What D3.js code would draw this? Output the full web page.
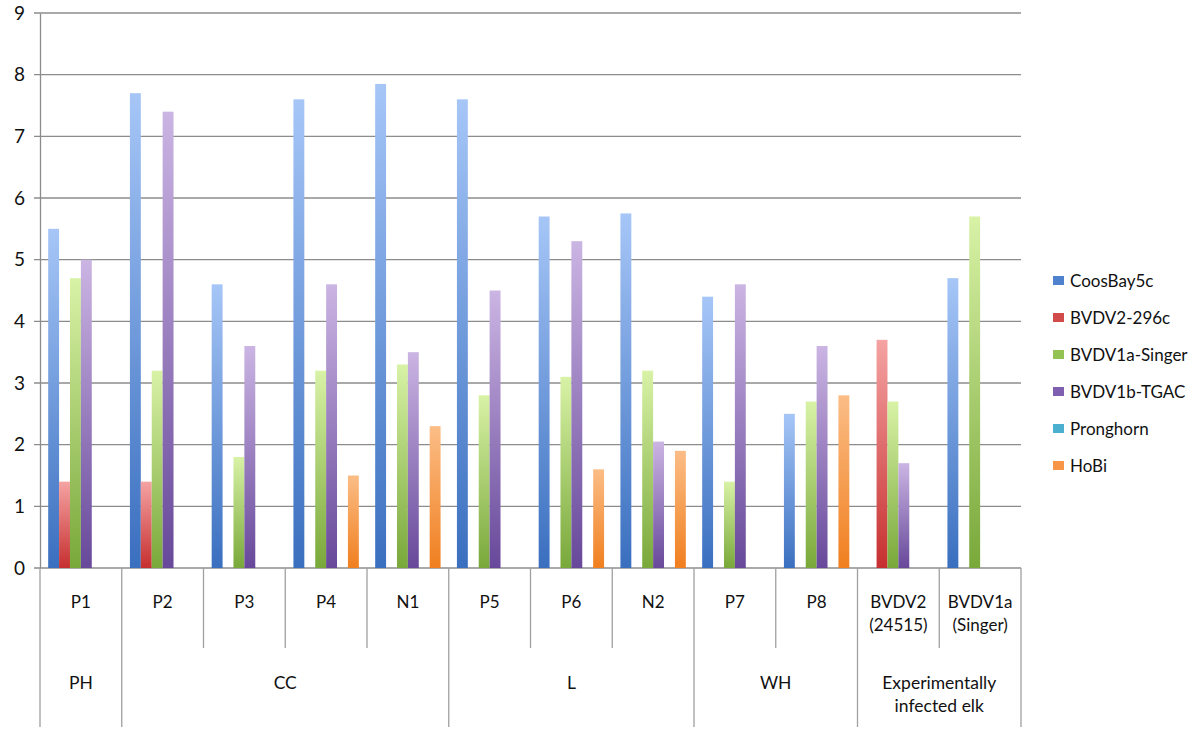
<!DOCTYPE html>
<html>
<head>
<meta charset="utf-8">
<script src="https://cdn.jsdelivr.net/npm/d3@7"></script>
<style>
  body { margin: 0; background: #fff; }
  text { font-family: Lato, "Open Sans", sans-serif; fill: #111; }
</style>
</head>
<body>
<div class="chart"></div>
<script>
// categories (bottom level) and their groups (second level)
const categories = ['P1', 'P2', 'P3', 'P4', 'N1', 'P5', 'P6', 'N2', 'P7', 'P8', 'BVDV2\n(24515)', 'BVDV1a\n(Singer)'];
const groups = [
    {name: 'PH', from: 0, to: 0},
    {name: 'CC', from: 1, to: 4},
    {name: 'L', from: 5, to: 7},
    {name: 'WH', from: 8, to: 9},
    {name: 'Experimentally\ninfected elk', from: 10, to: 11}
];
const seriesNames = ['CoosBay5c', 'BVDV2-296c', 'BVDV1a-Singer', 'BVDV1b-TGAC', 'Pronghorn', 'HoBi'];

// series values per category (null = no bar)
const coosBay5c   = [5.5, 7.7, 4.6, 7.6, 7.85, 7.6, 5.7, 5.75, 4.4, 2.5, null, 4.7];
const bvdv2_296c  = [1.4, 1.4, null, null, null, null, null, null, null, null, 3.7, null];
const bvdv1aSinger = [4.7, 3.2, 1.8, 3.2, 3.3, 2.8, 3.1, 3.2, 1.4, 2.7, 2.7, 5.7];
const bvdv1bTGAC  = [5.0, 7.4, 3.6, 4.6, 3.5, 4.5, 5.3, 2.05, 4.6, 3.6, 1.7, null];
const pronghorn   = [null, null, null, null, null, null, null, null, null, null, null, null];
const hoBi        = [null, null, null, 1.5, 2.3, null, 1.6, 1.9, null, 2.8, null, null];
const yTicks = [0, 1, 2, 3, 4, 5, 6, 7, 8, 9];

const seriesValues = [coosBay5c, bvdv2_296c, bvdv1aSinger, bvdv1bTGAC, pronghorn, hoBi];
// light top / dark bottom for each series
const colors = [
    ['#a6c6f7', '#3a6fbf'],
    ['#f5a3a3', '#c62f2f'],
    ['#d8f2a6', '#79a83a'],
    ['#cbb5e3', '#67489a'],
    ['#8fd6ea', '#3aa6c4'],
    ['#fbbd86', '#f07f1f']
];
const legendColors = ['#4f81cf', '#d24b4b', '#92c353', '#7f5fb0', '#4bb0d0', '#f79646'];

const width = 1200, height = 742;
const plot = {left: 40, right: 1021, top: 13, bottom: 568};

const svg = d3.select('.chart').append('svg')
    .attr('width', width)
    .attr('height', height);

const defs = svg.append('defs');
colors.forEach(function(c, i) {
    const g = defs.append('linearGradient')
        .attr('id', 'grad' + i)
        .attr('x1', 0).attr('y1', 0).attr('x2', 0).attr('y2', 1);
    g.append('stop').attr('offset', '0%').attr('stop-color', c[0]);
    g.append('stop').attr('offset', '100%').attr('stop-color', c[1]);
});

let x0 = d3.scaleBand()
    .domain(d3.range(categories.length))
    .range([plot.left, plot.right])
    .padding(0);
let x1 = d3.scaleBand()
    .domain(d3.range(seriesNames.length))
    .range([x0.bandwidth() * 0.1, x0.bandwidth() * 0.9]);
let y = d3.scaleLinear()
    .domain([0, 9])
    .range([plot.bottom, plot.top]);

// gridlines
svg.append('g').selectAll('line')
    .data(yTicks)
    .enter().append('line')
    .attr('x1', plot.left - 6)
    .attr('x2', plot.right)
    .attr('y1', d => y(d))
    .attr('y2', d => y(d))
    .attr('stroke', '#8c8c8c')
    .attr('stroke-width', 1.3);

// y axis
const yAxis = svg.append('g')
    .attr('transform', 'translate(' + plot.left + ',0)')
    .call(d3.axisLeft(y).tickValues(yTicks).tickSize(0).tickPadding(15));
yAxis.select('.domain').attr('stroke', '#8c8c8c').attr('stroke-width', 1.3);
yAxis.selectAll('text')
    .style('font-size', '19px')
    .style('font-family', 'Lato, sans-serif')
    .attr('fill', '#111');

// bars
const rows = [];
categories.forEach(function(c, ci) {
    seriesValues.forEach(function(vals, si) {
        if (vals[ci] != null) rows.push({ci: ci, si: si, v: vals[ci]});
    });
});
svg.append('g').selectAll('.bar')
    .data(rows)
    .enter().append('rect')
    .attr('class', 'bar')
    .attr('x', d => x0(d.ci) + x1(d.si))
    .attr('width', x1.bandwidth())
    .attr('y', d => y(d.v))
    .attr('height', d => y(0) - y(d.v))
    .attr('fill', d => 'url(#grad' + d.si + ')');

// category axis lines
const axisG = svg.append('g');
const catEdges = d3.range(categories.length + 1).map(i => i < categories.length ? x0(i) : plot.right);
const groupEdges = [0].concat(groups.map(g => g.to + 1));
axisG.selectAll('.cat-line')
    .data(d3.range(categories.length + 1))
    .enter().append('line')
    .attr('x1', i => catEdges[i])
    .attr('x2', i => catEdges[i])
    .attr('y1', plot.bottom)
    .attr('y2', i => groupEdges.indexOf(i) >= 0 ? 727 : 648)
    .attr('stroke', '#a0a0a0')
    .attr('stroke-width', 1.3);

// category labels
axisG.selectAll('.cat-label')
    .data(categories)
    .enter().append('text')
    .attr('class', 'cat-label')
    .attr('text-anchor', 'middle')
    .style('font-size', '17px')
    .each(function(d, i) {
        const lines = d.split('\n');
        d3.select(this).selectAll('tspan')
            .data(lines)
            .enter().append('tspan')
            .attr('x', x0(i) + x0.bandwidth() / 2)
            .attr('y', (l, j) => 608 + j * 23)
            .text(l => l);
    });

// group labels
axisG.selectAll('.group-label')
    .data(groups)
    .enter().append('text')
    .attr('class', 'group-label')
    .attr('text-anchor', 'middle')
    .style('font-size', '17.5px')
    .each(function(g) {
        const cx = (catEdges[g.from] + catEdges[g.to + 1]) / 2;
        d3.select(this).selectAll('tspan')
            .data(g.name.split('\n'))
            .enter().append('tspan')
            .attr('x', cx)
            .attr('y', (l, j) => 689 + j * 23)
            .text(l => l);
    });

// legend
const legend = svg.append('g')
    .attr('transform', 'translate(1053,281)');
const items = legend.selectAll('g')
    .data(seriesNames)
    .enter().append('g')
    .attr('transform', (d, i) => 'translate(0,' + (i * 37) + ')');
items.append('rect')
    .attr('x', 0).attr('y', -5)
    .attr('width', 11).attr('height', 9)
    .attr('fill', (d, i) => legendColors[i]);
items.append('text')
    .attr('x', 17).attr('y', 6)
    .style('font-size', '17px')
    .text(d => d);
</script>
</body>
</html>
